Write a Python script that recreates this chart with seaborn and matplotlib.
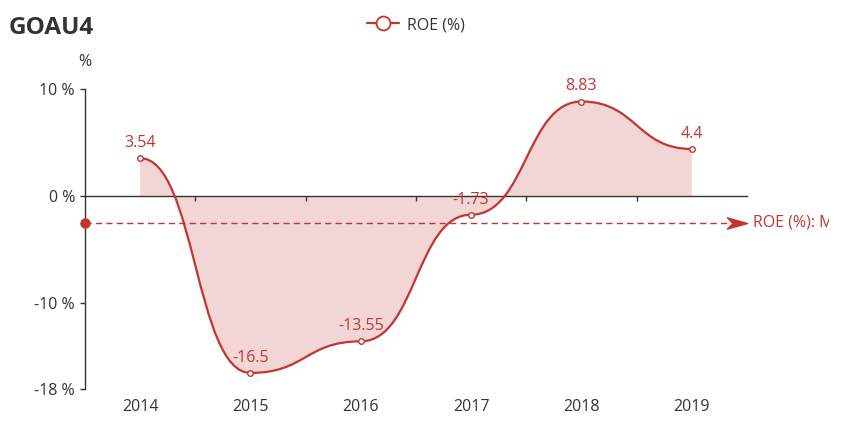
import numpy as np
import pandas as pd
import matplotlib
matplotlib.use("Agg")
import matplotlib.pyplot as plt
from matplotlib.path import Path
from matplotlib.patches import PathPatch
from matplotlib.lines import Line2D
from matplotlib.transforms import Bbox
import seaborn as sns

years = ["2014", "2015", "2016", "2017", "2018", "2019"]
roe = [3.54, -16.5, -13.55, -1.73, 8.83, 4.4]
y_ticks = [10, 0, -10, -18]
y_tick_labels = ["10 %", "0 %", "-10 %", "-18 %"]

title = "GOAU4"
series_name = "ROE (%)"
mean_label = "ROE (%): Média"

RED = "#c23531"
TXT = "#333333"
AXIS = "#333333"
FS = 11.5

sns.set_theme(style="white")
plt.rcParams['font.family'] = ['Open Sans', 'DejaVu Sans']

W, H = 853, 440
fig = plt.figure(figsize=(W / 100, H / 100), dpi=100)
ax = fig.add_axes([85 / W, 1 - 389 / H, (747 - 85) / W, 300 / H])

df = pd.DataFrame({"x": np.arange(len(years)), "roe": roe})

# smooth line: cubic bezier segments, flat tangent at every point
xs = df["x"].to_numpy(float)
ys = df["roe"].to_numpy(float)
verts = [(xs[0], ys[0])]
codes = [Path.MOVETO]
for i in range(len(xs) - 1):
    dx = xs[i + 1] - xs[i]
    verts += [(xs[i] + 0.5 * dx, ys[i]), (xs[i + 1] - 0.5 * dx, ys[i + 1]), (xs[i + 1], ys[i + 1])]
    codes += [Path.CURVE4] * 3
line_path = Path(verts, codes)
area_path = Path(verts + [(xs[-1], 0), (xs[0], 0), (xs[0], ys[0])],
                 codes + [Path.LINETO, Path.LINETO, Path.CLOSEPOLY])
ax.add_patch(PathPatch(area_path, facecolor=RED, alpha=0.2, edgecolor='none', zorder=1))
ax.add_patch(PathPatch(line_path, facecolor='none', edgecolor=RED, lw=1.6, zorder=3))

sns.scatterplot(data=df, x="x", y="roe", ax=ax, s=16, color="white",
                edgecolor=RED, linewidth=1.0, zorder=5, legend=False)

for xi, v in zip(xs, ys):
    ax.annotate(f"{v:g}", (xi, v), xytext=(0, 8), textcoords='offset points',
                ha='center', va='baseline', color=RED, fontsize=FS, zorder=6)

# mean mark line
mean = float(np.mean(roe))
ax.hlines(mean, -0.5, 5.35, colors=RED, linestyles=(0, (4.5, 3)), lw=1.0, zorder=4, clip_on=False)
ax.plot([-0.5], [mean], marker='o', ms=6.5, color=RED, clip_on=False, zorder=6)
arrow = Path([(0, 0), (-1, 0.28), (-0.72, 0), (-1, -0.28), (0, 0)],
             [Path.MOVETO, Path.LINETO, Path.LINETO, Path.LINETO, Path.CLOSEPOLY])
ax.plot([5.5], [mean], marker=arrow, ms=29, color=RED, mec=RED, clip_on=False, zorder=6)
mtxt = ax.annotate(mean_label, (5.5, mean), xytext=(6, 0), textcoords='offset pixels',
                   ha='left', va='center', color=RED, fontsize=FS, annotation_clip=False)
# the chart canvas ends a little before the image edge
mtxt.set_clip_box(Bbox.from_extents(0, 0, 829, H))
mtxt.set_clip_on(True)

ax.set_xlim(-0.5, 5.5)
ax.set_ylim(-18, 10)
ax.set_yticks(y_ticks, y_tick_labels)
ax.set_xticks(np.arange(len(years) - 1) + 0.5, [""] * (len(years) - 1))
ax.set_xlabel("")
ax.set_ylabel("")
ax.grid(False)

for s in ["top", "right"]:
    ax.spines[s].set_visible(False)
ax.spines["left"].set_color(AXIS)
ax.spines["left"].set_linewidth(1.0)
ax.spines["bottom"].set_position(("data", 0))
ax.spines["bottom"].set_color(AXIS)
ax.spines["bottom"].set_linewidth(1.0)
ax.spines["bottom"].set_zorder(2)
ax.tick_params(axis="y", left=True, length=3.6, width=1, color=AXIS, pad=3.6,
               labelsize=FS, labelcolor=TXT)
ax.tick_params(axis="x", bottom=True, length=3.6, width=1, color=AXIS, direction="out")

for i, yr in enumerate(years):
    ax.annotate(yr, (i, 0), xycoords=("data", "axes fraction"), xytext=(0, -10),
                textcoords="offset pixels", ha="center", va="top", fontsize=FS, color=TXT)

fig.text(85 / W, 1 - 62 / H, "%", ha="center", va="center", fontsize=FS, color=TXT)
fig.text(9 / W, 1 - 28 / H, title, ha="left", va="center", fontsize=17.5,
         fontweight="bold", color=TXT)

handle = Line2D([], [], color=RED, lw=1.6, marker="o", ms=10, mfc="white", mec=RED, mew=1.3)
fig.legend([handle], [series_name], loc="center", bbox_to_anchor=(416 / W, 1 - 25 / H),
           frameon=False, fontsize=FS, handlelength=2.0, handletextpad=0.45,
           labelcolor=TXT)

fig.savefig("out.png", dpi=100)
